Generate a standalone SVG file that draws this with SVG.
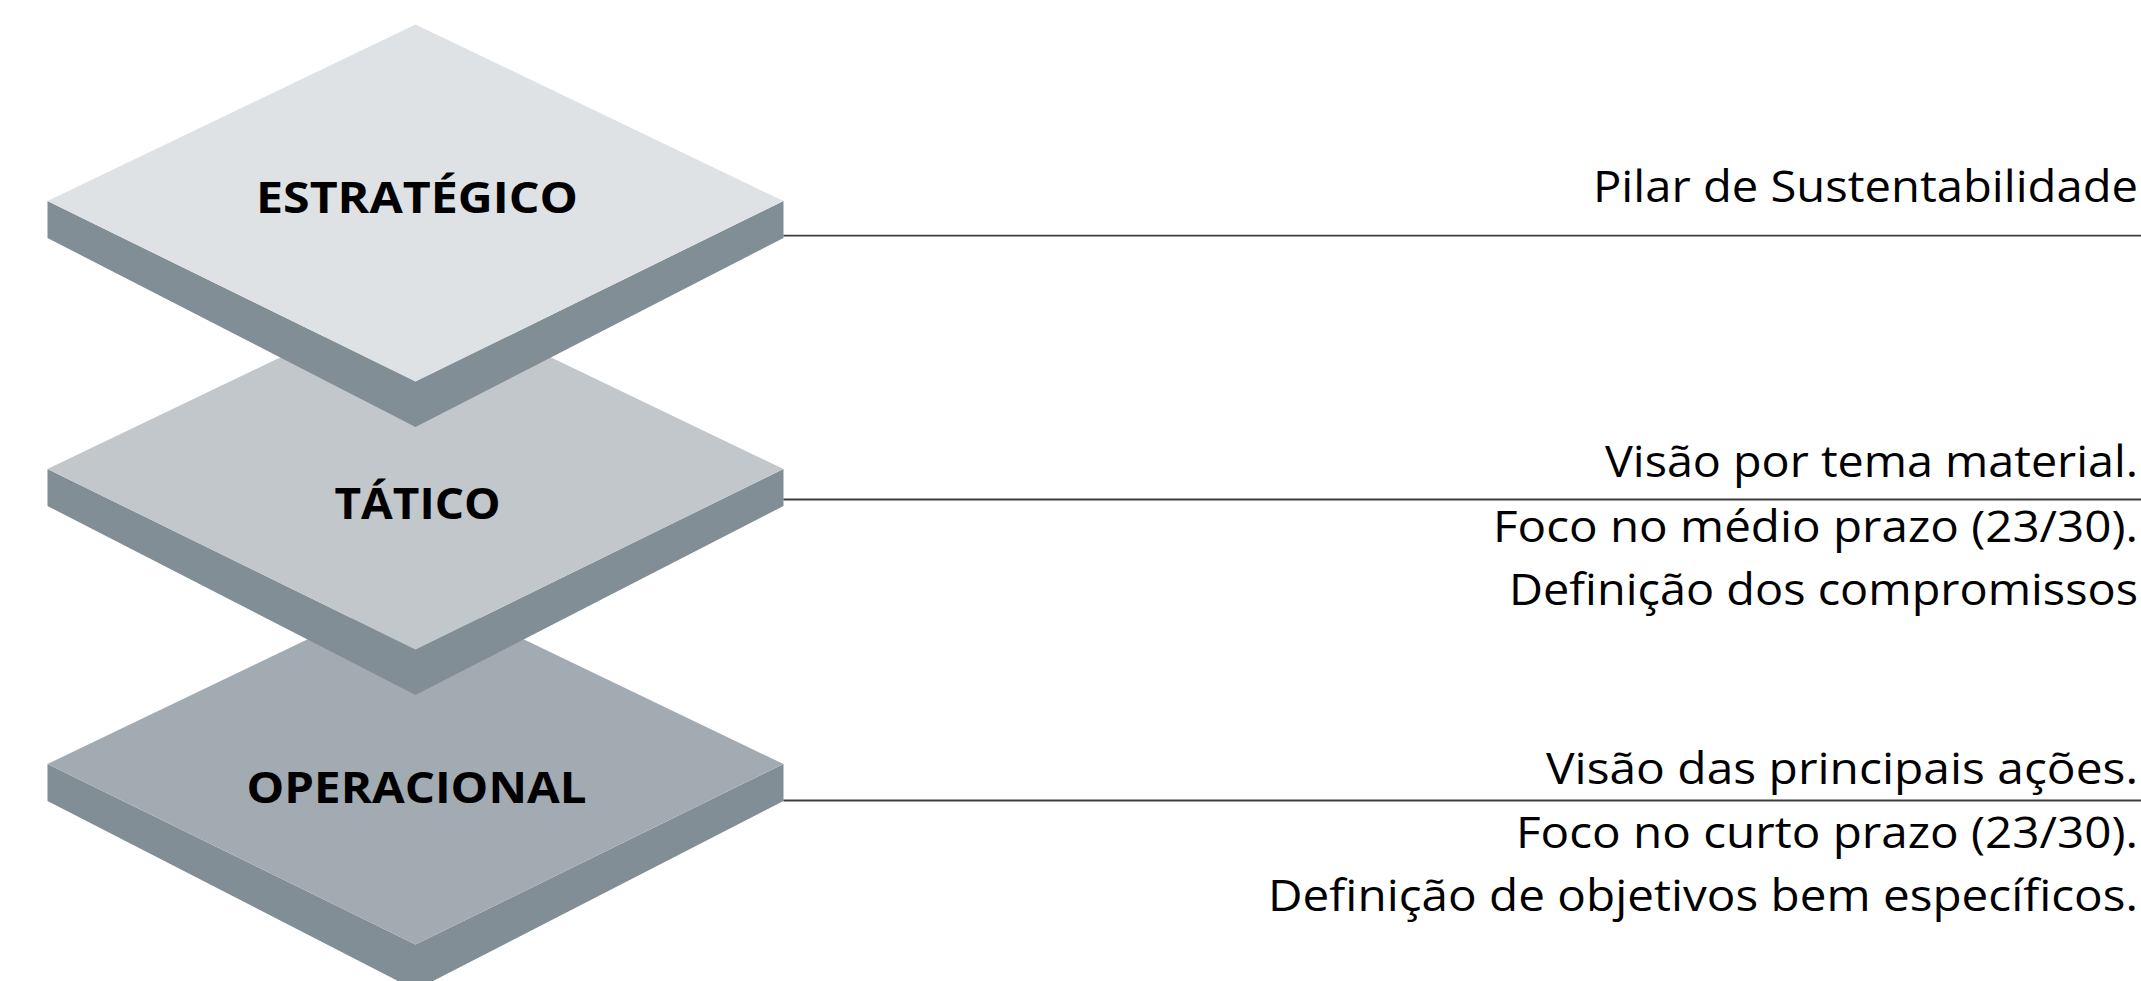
<svg xmlns="http://www.w3.org/2000/svg" width="2141" height="981" viewBox="0 0 2141 981">
<style>
.side{fill:#818e96}
.f1{fill:#dfe2e5}
.f2{fill:#c1c7cb}
.f3{fill:#a3abb2}
.lbl{font-family:"Open Sans","Liberation Sans",sans-serif;font-weight:700;font-size:43px;fill:#000;text-anchor:middle}
.txt{font-family:"Open Sans","Liberation Sans",sans-serif;font-weight:400;font-size:44px;fill:#000}
.conn{stroke:#3c3c3c;stroke-width:1.8;fill:none}
</style>
<defs>
<g id="slab-side"><polygon class="side" points="47.5,201 415.5,381.5 783.5,201 783.5,238 415.5,427 47.5,238"/></g>
<polygon id="slab-top" points="415.5,24.5 783.5,201 415.5,381.5 47.5,201"/>
</defs>
<g id="node-operacional" transform="translate(0,563)">
<use href="#slab-side"/>
<use href="#slab-top" class="f3"/>
<text class="lbl" x="416.5" y="240" textLength="340" lengthAdjust="spacingAndGlyphs">OPERACIONAL</text>
</g>
<g id="node-tatico" transform="translate(0,268)">
<use href="#slab-side"/>
<use href="#slab-top" class="f2"/>
<text class="lbl" x="417.5" y="251" textLength="166" lengthAdjust="spacingAndGlyphs">TÁTICO</text>
</g>
<g id="node-estrategico">
<use href="#slab-side"/>
<use href="#slab-top" class="f1"/>
<text class="lbl" x="417" y="213.3" textLength="322" lengthAdjust="spacingAndGlyphs">ESTRATÉGICO</text>
</g>
<g id="connectors">
<line class="conn" x1="783.5" y1="235.7" x2="2141" y2="235.7"/>
<line class="conn" x1="783.5" y1="499.5" x2="2141" y2="499.5"/>
<line class="conn" x1="783.5" y1="800.5" x2="2141" y2="800.5"/>
</g>
<g id="text-estrategico">
<text class="txt" x="1593" y="202" textLength="545" lengthAdjust="spacingAndGlyphs">Pilar de Sustentabilidade</text>
</g>
<g id="text-tatico">
<text class="txt" x="1605" y="477" textLength="533" lengthAdjust="spacingAndGlyphs">Visão por tema material.</text>
<text class="txt" x="1493" y="541.5" textLength="645" lengthAdjust="spacingAndGlyphs">Foco no médio prazo (23/30).</text>
<text class="txt" x="1509" y="604.5" textLength="629" lengthAdjust="spacingAndGlyphs">Definição dos compromissos</text>
</g>
<g id="text-operacional">
<text class="txt" x="1546" y="783.5" textLength="592" lengthAdjust="spacingAndGlyphs">Visão das principais ações.</text>
<text class="txt" x="1516" y="847.5" textLength="622" lengthAdjust="spacingAndGlyphs">Foco no curto prazo (23/30).</text>
<text class="txt" x="1268" y="911" textLength="870" lengthAdjust="spacingAndGlyphs">Definição de objetivos bem específicos.</text>
</g>
</svg>
